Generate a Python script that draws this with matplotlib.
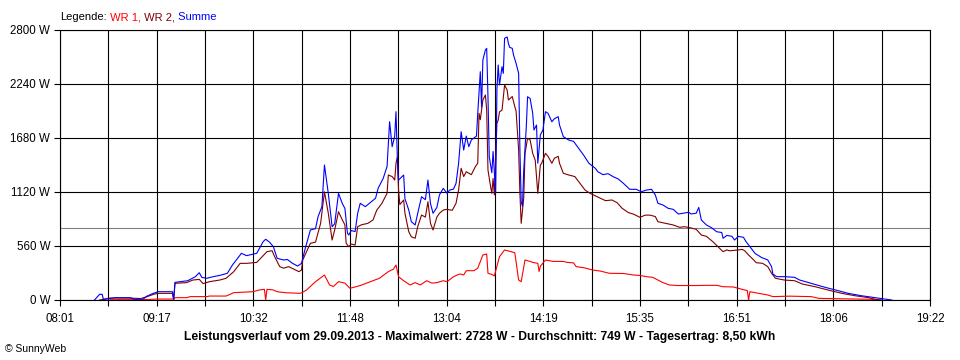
import matplotlib
matplotlib.use("Agg")
import matplotlib.pyplot as plt

plt.rcParams['font.family'] = ['Liberation Sans', 'DejaVu Sans']
plt.rcParams['font.size'] = 8

# times are minutes after midnight, power in W
wr1_min = [520, 551, 557, 570, 571, 580, 583, 596, 598, 611,
           617, 632, 637, 641, 642, 643, 648, 651, 658, 669,
           671, 674, 681, 688, 692, 695, 699, 704, 708, 716,
           724, 731, 738, 742, 744, 746, 750, 755, 759, 763,
           768, 772, 776, 781, 784, 789, 794, 797, 799, 805,
           808, 812, 815, 816, 819, 821, 825, 829, 833, 837,
           840, 842, 845, 849, 851, 855, 856, 857, 861, 867,
           875, 878, 883, 885, 891, 898, 904, 911, 922, 930,
           935, 940, 945, 949, 953, 958, 964, 971, 979, 987,
           995, 1000, 1008, 1012, 1019, 1020, 1021, 1028, 1035, 1039,
           1052, 1069, 1075, 1095, 1114, 1123]
wr1_w = [3, 5, 10, 10, 24, 24, 35, 35, 41, 41,
         76, 86, 104, 111, 0, 111, 104, 86, 75, 69,
         80, 104, 190, 259, 156, 140, 190, 175, 121, 150,
         190, 225, 294, 320, 363, 242, 200, 156, 180, 156,
         200, 175, 180, 200, 190, 242, 270, 260, 304, 304,
         330, 467, 477, 277, 265, 250, 449, 519, 505, 490,
         207, 190, 415, 400, 390, 380, 294, 350, 415, 400,
         400, 390, 385, 346, 335, 311, 300, 277, 275, 259,
         255, 242, 235, 207, 180, 156, 150, 150, 150, 152,
         152, 138, 135, 121, 97, 0, 86, 69, 52, 35,
         40, 35, 17, 12, 8, 0]

wr2_min = [512, 520, 536, 544, 549, 555, 558, 569, 570, 571,
           580, 585, 590, 593, 598, 606, 611, 617, 622, 627,
           635, 643, 647, 649, 653, 656, 660, 664, 668, 670,
           671, 677, 681, 685, 688, 691, 694, 696, 699, 702,
           704, 705, 707, 709, 712, 714, 717, 722, 726, 729,
           733, 737, 738, 741, 743, 744, 745, 746, 747, 750,
           751, 754, 756, 759, 761, 764, 767, 769, 771, 773,
           776, 778, 781, 784, 788, 791, 793, 795, 797, 799,
           803, 806, 808, 809, 810, 812, 814, 815, 816, 818,
           819, 820, 821, 823, 824, 825, 827, 829, 831, 832,
           835, 837, 838, 840, 841, 842, 844, 845, 847, 849,
           851, 853, 855, 857, 858, 861, 863, 866, 868, 871,
           872, 875, 879, 884, 888, 892, 896, 900, 904, 908,
           913, 917, 921, 926, 930, 935, 939, 943, 947, 949,
           955, 961, 966, 970, 974, 979, 983, 987, 992, 996,
           1000, 1003, 1005, 1011, 1015, 1017, 1020, 1024, 1026, 1031,
           1035, 1038, 1041, 1048, 1056, 1062, 1072, 1082, 1093, 1103,
           1114, 1119, 1124]
wr2_w = [0, 20, 20, 15, 34, 62, 69, 69, 0, 173,
         180, 207, 214, 170, 190, 207, 225, 294, 380, 380,
         390, 501, 511, 450, 346, 330, 346, 320, 294, 310,
         415, 588, 600, 795, 1123, 900, 622, 726, 916, 830,
         780, 588, 553, 580, 570, 760, 780, 795, 830, 933,
         1003, 1106, 1296, 1280, 1244, 1418, 1480, 1141, 990, 1037,
         900, 708, 656, 640, 760, 881, 860, 1019, 795, 726,
         860, 899, 933, 940, 930, 1003, 1141, 1366, 1280, 1330,
         1300, 1380, 1418, 1936, 1870, 2074, 2126, 1970, 1348, 1180,
         1106, 1260, 1090, 1832, 1866, 1950, 1970, 2230, 2178, 2074,
         2110, 2005, 1960, 1555, 1106, 795, 1060, 1521, 1677, 1660,
         1521, 1450, 1106, 1400, 1418, 1521, 1490, 1418, 1470, 1490,
         1418, 1314, 1297, 1280, 1210, 1140, 1106, 1080, 1055, 1030,
         1037, 1010, 951, 906, 890, 857, 880, 880, 865, 812,
         795, 778, 754, 760, 750, 733, 674, 660, 605, 553,
         501, 520, 510, 518, 525, 510, 467, 415, 387, 380,
         346, 277, 225, 207, 200, 166, 138, 104, 69, 45,
         24, 8, 0]

summe_min = [508, 512, 514, 515, 520, 524, 536, 539, 546, 549,
             554, 558, 569, 570, 571, 575, 581, 587, 590, 592,
             596, 601, 606, 612, 616, 623, 627, 635, 640, 642,
             645, 648, 651, 656, 659, 663, 667, 670, 673, 677,
             681, 683, 686, 688, 689, 691, 694, 696, 699, 702,
             704, 706, 707, 709, 712, 714, 716, 720, 728, 730,
             734, 737, 739, 741, 743, 744, 745, 746, 750, 751,
             754, 756, 759, 761, 764, 767, 769, 771, 773, 776,
             778, 781, 784, 786, 789, 791, 793, 795, 797, 799,
             801, 803, 807, 808, 810, 811, 812, 814, 815, 816,
             817, 819, 820, 821, 822, 823, 824, 825, 827, 828,
             829, 831, 832, 833, 835, 836, 838, 840, 841, 842,
             843, 844, 846, 847, 849, 851, 852, 854, 855, 857,
             859, 861, 863, 866, 868, 871, 872, 875, 879, 883,
             887, 891, 895, 900, 902, 906, 910, 914, 918, 922,
             927, 932, 936, 940, 944, 947, 949, 953, 957, 961,
             965, 969, 973, 975, 979, 981, 983, 987, 991, 995,
             999, 1000, 1003, 1007, 1009, 1012, 1016, 1018, 1021, 1025,
             1030, 1035, 1038, 1039, 1042, 1048, 1056, 1060, 1069, 1080,
             1088, 1098, 1108, 1119, 1124, 1132]
summe_w = [0, 59, 59, 5, 15, 24, 24, 8, 8, 40,
           69, 86, 86, 10, 183, 190, 200, 242, 283, 235,
           225, 242, 255, 277, 363, 484, 460, 484, 605, 630,
           600, 553, 432, 415, 420, 380, 352, 380, 536, 726,
           740, 864, 968, 1400, 1300, 1106, 760, 790, 1106, 1000,
           950, 692, 674, 720, 710, 899, 1003, 968, 1055, 1158,
           1262, 1383, 1849, 1590, 1700, 1953, 1500, 1244, 1296, 1050,
           933, 812, 778, 899, 1071, 1040, 1244, 1000, 899, 960,
           1089, 1158, 1106, 1140, 1150, 1210, 1418, 1745, 1555, 1700,
           1590, 1660, 1700, 1936, 2368, 2000, 2489, 2593, 2610, 2108,
           1486, 1320, 1540, 1330, 1106, 2178, 2437, 2230, 2420, 2350,
           2714, 2728, 2660, 2620, 2610, 2541, 2454, 2351, 1555, 1019,
           970, 1348, 1797, 2108, 2090, 1936, 1763, 1815, 1418, 1711,
           1763, 1953, 1936, 1849, 1880, 1901, 1815, 1694, 1660, 1645,
           1573, 1500, 1418, 1366, 1330, 1300, 1310, 1279, 1255, 1210,
           1148, 1148, 1123, 1140, 1148, 1089, 1003, 985, 951, 940,
           892, 900, 910, 892, 900, 960, 830, 778, 750, 708,
           700, 640, 670, 660, 622, 660, 650, 605, 553, 484,
           442, 415, 346, 270, 242, 242, 235, 207, 173, 131,
           104, 69, 45, 24, 15, 0]

x_labels = ["08:01", "09:17", "10:32", "11:48", "13:04",
            "14:19", "15:35", "16:51", "18:06", "19:22"]
y_ticks = [0, 560, 1120, 1680, 2240, 2800]
t_start, t_end = 481, 1162   # 08:01 .. 19:22
avg_w = 749

legend_parts = [("Legende:", "black"), (" WR 1,", "#ff0000"),
                (" WR 2,", "#800000"), (" Summe", "#0000ff")]
title = ("Leistungsverlauf vom 29.09.2013 - Maximalwert: 2728 W - "
         "Durchschnitt: 749 W - Tagesertrag: 8,50 kWh")

fig = plt.figure(figsize=(9.6, 3.6), dpi=100)
ax = fig.add_axes([60 / 960, 60 / 360, 870 / 960, 270 / 360])

ax.axhline(avg_w, color="#808080", lw=0.8, zorder=1.5)
ax.plot(wr1_min, wr1_w, color="#ff0000", lw=0.8, zorder=3)
ax.plot(wr2_min, wr2_w, color="#800000", lw=0.8, zorder=3)
ax.plot(summe_min, summe_w, color="#0000ff", lw=0.8, zorder=3)

ax.set_xlim(t_start, t_end)
ax.set_ylim(0, 2800)

step = (t_end - t_start) / (len(x_labels) - 1)
major = [t_start + i * step for i in range(len(x_labels))]
minor = [t_start + (i + 0.5) * step for i in range(len(x_labels) - 1)]
ax.set_xticks(major)
ax.set_xticklabels(x_labels)
ax.set_xticks(minor, minor=True)
ax.set_yticks(y_ticks)
ax.set_yticklabels([f"{v} W" for v in y_ticks])

ax.grid(True, which="both", color="black", lw=0.8)
ax.tick_params(which="both", direction="out", length=4, width=0.8, color="black")
ax.tick_params(axis="x", pad=5, labelsize=8.3)
ax.tick_params(axis="y", pad=3, labelsize=8.3)
for s in ax.spines.values():
    s.set_color("black")
    s.set_linewidth(0.8)

# multi-coloured legend line at the top
renderer = fig.canvas.get_renderer()
x = 60 / 960
for txt, col in legend_parts:
    t = fig.text(x, 1 - 17 / 360, txt, color=col, va="center", ha="left")
    x = t.get_window_extent(renderer).x1 / fig.bbox.width

fig.text(0.5, 1 - 337 / 360, title, ha="center", va="center",
         fontweight="bold", fontsize=8.7)
fig.text(5 / 960, 1 - 349 / 360, "© SunnyWeb", ha="left", va="center", fontsize=7.5)

fig.savefig("out.png", dpi=100, facecolor="white")
